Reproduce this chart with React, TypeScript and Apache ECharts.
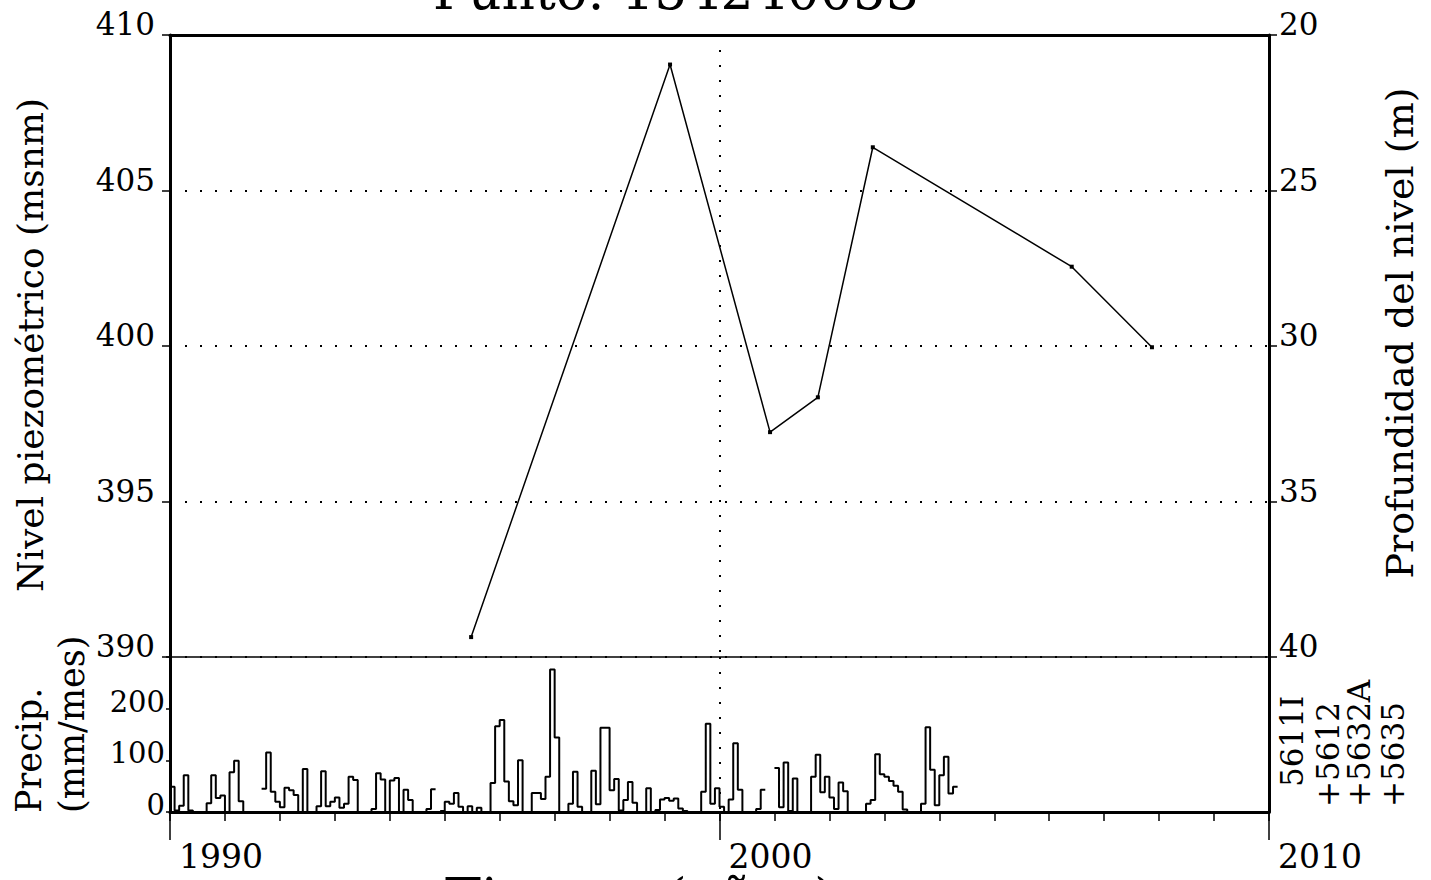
import React, { useEffect, useRef } from 'react';
import * as echarts from 'echarts';

const TITLE = 'Punto: 154240053';
const X_NAME = 'Tiempo (años)';
const Y_LEFT_NAME = 'Nivel piezométrico (msnm)';
const Y_RIGHT_NAME = 'Profundidad del nivel (m)';
const PRECIP_NAME_1 = 'Precip.';
const PRECIP_NAME_2 = '(mm/mes)';
const STATIONS = ['5611I', '+5612', '+5632A', '+5635'];

// Piezometric level measurements: [decimal year, level (m a.s.l.)]
const levelYears = [1995.48, 1999.1, 2000.92, 2001.79, 2002.79, 2006.41, 2007.87];
const levelValues = [390.64, 409.05, 397.23, 398.35, 406.39, 402.55, 399.96];

// Monthly precipitation (mm/mes) starting January 1990; null = no data
const PRECIP_START = 1990;
const precipMonthly: (number | null)[] = [
  49, 3, 12, 71, 3, 0, 0, 0, 17, 71, 27, 32,
  0, 77, 99, 21, 0, null, null, null, 45, 115, 39, 20,
  9, 47, 42, 33, 0, 83, 0, 0, 11, 79, 11, 20,
  28, 8, 16, 68, 62, 0, 0, 0, 6, 75, 63, 0,
  61, 66, 0, 43, 23, 0, 0, 0, 6, 44, null, 2,
  20, 16, 37, 10, 0, 11, 0, 8, 0, 0, 56, 166,
  178, 59, 21, 13, 100, 0, 0, 37, 37, 25, 68, 276,
  144, 0, 0, 16, 78, 10, 0, 0, 80, 15, 163, 163,
  42, 64, 3, 23, 58, 18, 0, 0, 46, 0, 4, 24,
  27, 22, 26, 7, 2, 0, 0, 0, 39, 171, 16, 46,
  10, 0, 24, 133, 43, 0, 0, 0, 6, 43, null, null,
  85, 9, 96, 2, 65, 0, 0, 0, 68, 111, 38, 68,
  28, 6, 57, 40, 0, 0, 0, 0, 16, 23, 112, 73,
  68, 60, 51, 39, 5, 0, 0, 0, 16, 164, 82, 13,
  71, 107, 36, 49,
];

const X_MIN = 1990;
const X_MAX = 2010;
const LEVEL_MIN = 390;
const LEVEL_MAX = 410;
const DEPTH_MIN = 20;
const DEPTH_MAX = 40;
const PRECIP_MAX = 300;

const FONT = "'DejaVu Serif', serif";
const BLACK = '#000';

function buildPrecip(): (number | null)[][] {
  const out: (number | null)[][] = [];
  precipMonthly.forEach((v, i) => {
    const t0 = PRECIP_START + i / 12;
    const t1 = PRECIP_START + (i + 1) / 12;
    if (v == null) {
      out.push([t0, null]);
    } else {
      out.push([t0, v]);
      out.push([t1, v]);
    }
  });
  return out;
}

function txt(
  text: string,
  x: number,
  y: number,
  size: number,
  align: string,
  vAlign: string,
  rotation = 0
) {
  return {
    type: 'text',
    x,
    y,
    rotation,
    silent: true,
    style: {
      text,
      fill: BLACK,
      fontSize: size,
      fontFamily: FONT,
      align,
      verticalAlign: vAlign,
      textAlign: align,
      textVerticalAlign: vAlign,
    },
  };
}

export default function App() {
  const ref = useRef<HTMLDivElement>(null);

  useEffect(() => {
    if (!ref.current) return;
    const chart = echarts.init(ref.current, undefined, { renderer: 'svg' });

    const dotted = { color: BLACK, width: 2, type: [2, 13] as number[] };
    const labelBase = { color: BLACK, fontFamily: FONT };

    const option: any = {
      animation: false,
      backgroundColor: '#fff',
      grid: [
        { left: 170, right: 162, top: 35, height: 622 },
        { left: 170, right: 162, top: 657, height: 155 },
      ],
      xAxis: [
        {
          type: 'value', gridIndex: 0, position: 'top', min: X_MIN, max: X_MAX, interval: 10,
          axisLine: { show: true, lineStyle: { color: BLACK, width: 3 } },
          axisTick: { show: false }, axisLabel: { show: false },
          splitLine: { show: true, lineStyle: dotted },
        },
        {
          type: 'value', gridIndex: 0, position: 'bottom', min: X_MIN, max: X_MAX, interval: 10,
          axisLine: { show: true, onZero: false, lineStyle: { color: BLACK, width: 1.5 } },
          axisTick: { show: false }, axisLabel: { show: false }, splitLine: { show: false },
        },
        {
          type: 'value', gridIndex: 1, position: 'bottom', min: X_MIN, max: X_MAX, interval: 1,
          axisLine: { show: true, onZero: false, lineStyle: { color: BLACK, width: 3 } },
          axisTick: { show: true, length: 9, lineStyle: { color: BLACK, width: 1.5 } },
          axisLabel: {
            ...labelBase, fontSize: 33, margin: 28, align: 'left', padding: [0, 0, 0, 9],
            formatter: (v: number) => (v % 10 === 0 ? String(v) : ''),
          },
          splitLine: { show: false },
        },
        {
          type: 'value', gridIndex: 1, position: 'bottom', min: X_MIN, max: X_MAX, interval: 10,
          axisLine: { show: false },
          axisTick: { show: true, length: 28, lineStyle: { color: BLACK, width: 1.5 } },
          axisLabel: { show: false },
          splitLine: { show: true, lineStyle: dotted },
        },
      ],
      yAxis: [
        {
          type: 'value', gridIndex: 0, position: 'left', min: LEVEL_MIN, max: LEVEL_MAX, interval: 5,
          axisLine: { show: true, lineStyle: { color: BLACK, width: 3 } },
          axisTick: { show: true, length: 8, lineStyle: { color: BLACK, width: 1.5 } },
          axisLabel: {
            ...labelBase, fontSize: 31, margin: 15, verticalAlign: 'bottom', lineHeight: 22,
          },
          splitLine: { show: true, lineStyle: dotted },
        },
        {
          type: 'value', gridIndex: 0, position: 'right', min: DEPTH_MIN, max: DEPTH_MAX, interval: 5,
          inverse: true,
          axisLine: { show: true, lineStyle: { color: BLACK, width: 3 } },
          axisTick: { show: true, length: 8, lineStyle: { color: BLACK, width: 1.5 } },
          axisLabel: {
            ...labelBase, fontSize: 31, margin: 10, verticalAlign: 'bottom', lineHeight: 22,
          },
          splitLine: { show: false },
        },
        {
          type: 'value', gridIndex: 1, position: 'left', min: 0, max: PRECIP_MAX, interval: 100,
          axisLine: { show: true, lineStyle: { color: BLACK, width: 3 } },
          axisTick: { show: true, length: 4, lineStyle: { color: BLACK, width: 1.5 } },
          axisLabel: {
            ...labelBase, fontSize: 29, margin: 5, verticalAlign: 'bottom', lineHeight: 14,
            formatter: (v: number) => (v >= PRECIP_MAX ? '' : String(v)),
          },
          splitLine: { show: false },
        },
        {
          type: 'value', gridIndex: 1, position: 'right', min: 0, max: PRECIP_MAX, interval: 100,
          axisLine: { show: true, lineStyle: { color: BLACK, width: 3 } },
          axisTick: { show: false }, axisLabel: { show: false }, splitLine: { show: false },
        },
      ],
      series: [
        {
          type: 'line', name: 'Nivel', xAxisIndex: 0, yAxisIndex: 0,
          data: levelYears.map((t, i) => [t, levelValues[i]]),
          symbol: 'rect', symbolSize: 4,
          itemStyle: { color: BLACK },
          lineStyle: { color: BLACK, width: 1.5 },
        },
        {
          type: 'line', name: 'Precip', xAxisIndex: 2, yAxisIndex: 2,
          data: buildPrecip(), showSymbol: false, symbol: 'none', connectNulls: false,
          lineStyle: { color: BLACK, width: 2 },
        },
      ],
      graphic: [
        txt(TITLE, 676, 17, 52, 'center', 'bottom'),
        txt(X_NAME, 640, 898, 54, 'center', 'middle'),
        txt(Y_LEFT_NAME, 30, 345, 36, 'center', 'middle', Math.PI / 2),
        txt(Y_RIGHT_NAME, 1400, 333, 38, 'center', 'middle', Math.PI / 2),
        txt(PRECIP_NAME_1, 29, 813, 35, 'left', 'middle', Math.PI / 2),
        txt(PRECIP_NAME_2, 72, 813, 35, 'left', 'middle', Math.PI / 2),
        txt(STATIONS[0], 1292, 787, 31, 'left', 'middle', Math.PI / 2),
        txt(STATIONS[1], 1328, 807, 31, 'left', 'middle', Math.PI / 2),
        txt(STATIONS[2], 1359, 807, 31, 'left', 'middle', Math.PI / 2),
        txt(STATIONS[3], 1393, 807, 31, 'left', 'middle', Math.PI / 2),
      ],
    };

    chart.setOption(option);
    return () => chart.dispose();
  }, []);

  return (
    <div
      ref={ref}
      style={{ position: 'fixed', left: 0, top: 0, width: 1431, height: 880, background: '#fff' }}
    />
  );
}
